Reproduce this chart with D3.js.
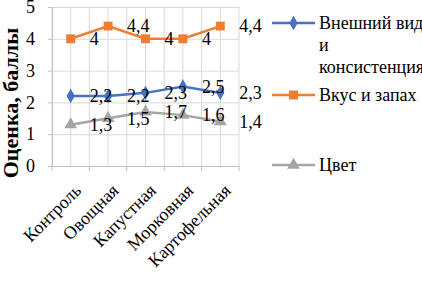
<!DOCTYPE html>
<html>
<head>
<meta charset="utf-8">
<script src="https://cdn.jsdelivr.net/npm/d3@7"></script>
</head>
<body style="margin:0">
<div id="chartContainer"></div>
<script>
// Chart data
const categories = ["Контроль", "Овощная", "Капустная", "Морковная", "Картофельная"];
const appearance = [2.2, 2.2, 2.3, 2.5, 2.3];
const taste = [4, 4.4, 4, 4, 4.4];
const color = [1.3, 1.5, 1.7, 1.6, 1.4];
const yTicks = [0, 1, 2, 3, 4, 5];

const series = [
  {name: ["Внешний вид", "и", "консистенция"], values: appearance, stroke: "#4472c4", marker: d3.symbolDiamond, size: 60, legendY: 23},
  {name: ["Вкус и запах"], values: taste, stroke: "#ed7d31", marker: d3.symbolSquare, size: 80, legendY: 95},
  {name: ["Цвет"], values: color, stroke: "#a5a5a5", marker: d3.symbolTriangle, size: 70, legendY: 165}
];

const FONT = "Liberation Serif";

const width = 422;
const height = 281;
const marginLeft = 52;
const plotRight = 239;
const marginTop = 7;
const plotBottom = 166;

const x = d3.scaleBand(categories, [marginLeft, plotRight]);
const y = d3.scaleLinear([0, 5], [plotBottom, marginTop]);
const cx = d => x(d) + x.bandwidth() / 2;

const svg = d3.select("#chartContainer").append("svg")
  .attr("width", width)
  .attr("height", height)
  .attr("font-family", FONT)
  .style("display", "block");

// Vertical grid: category boundaries and centres
const vLines = categories.flatMap(c => [x(c), cx(c)]).concat([plotRight]);
svg.append("g")
  .selectAll("line")
  .data(vLines)
  .join("line")
  .attr("x1", d => d).attr("x2", d => d)
  .attr("y1", marginTop).attr("y2", plotBottom)
  .attr("stroke", "#d9d9d9");

// Y axis with grid lines
svg.append("g")
  .attr("transform", `translate(${marginLeft},0)`)
  .call(d3.axisLeft(y).tickValues(yTicks).tickFormat(d3.format("d")).tickSize(4).tickPadding(13))
  .attr("font-family", FONT)
  .attr("font-size", 18)
  .call(g => g.select(".domain").attr("stroke", "#bfbfbf"))
  .call(g => g.selectAll(".tick line").attr("stroke", "#bfbfbf"))
  .call(g => g.selectAll(".tick line").clone()
    .attr("x1", 0)
    .attr("x2", plotRight - marginLeft)
    .attr("stroke", "#d9d9d9"))
  .call(g => g.selectAll(".tick text").attr("fill", "#000"));

// X axis
svg.append("g")
  .attr("transform", `translate(0,${plotBottom})`)
  .call(d3.axisBottom(x).tickSize(0))
  .attr("font-family", FONT)
  .attr("font-size", 18)
  .call(g => g.select(".domain").attr("stroke", "#bfbfbf"))
  .call(g => g.selectAll(".tick text")
    .attr("fill", "#000")
    .attr("text-anchor", "end")
    .attr("transform", "translate(5,19) rotate(-45)")
    .attr("dy", "0.35em")
    .attr("dx", 0))
  .call(g => g.selectAll(".bnd")
    .data(categories.map(c => x(c)).concat([plotRight]))
    .join("line")
    .attr("x1", d => d).attr("x2", d => d)
    .attr("y1", 0).attr("y2", 5)
    .attr("stroke", "#bfbfbf"));

// Axis title
svg.append("text")
  .attr("transform", `translate(18,103) rotate(-90)`)
  .attr("text-anchor", "middle")
  .attr("font-size", 22)
  .attr("font-weight", "bold")
  .text("Оценка, баллы");

const line = d3.line()
  .x((d, i) => cx(categories[i]))
  .y(d => y(d));

for (const s of series) {
  svg.append("path")
    .attr("fill", "none")
    .attr("stroke", s.stroke)
    .attr("stroke-width", 2.5)
    .attr("d", line(s.values));

  svg.append("g")
    .selectAll("path")
    .data(s.values)
    .join("path")
    .attr("transform", (d, i) => `translate(${cx(categories[i])},${y(d)})`)
    .attr("d", d3.symbol(s.marker, s.size))
    .attr("fill", s.stroke);

  // data labels
  svg.append("g")
    .selectAll("text")
    .data(s.values)
    .join("text")
    .attr("x", (d, i) => cx(categories[i]) + 19)
    .attr("y", d => y(d))
    .attr("dy", "0.35em")
    .attr("font-size", 18)
    .text(d => String(d).replace(".", ","));

  // legend
  const lg = svg.append("g").attr("transform", `translate(272,${s.legendY})`);
  lg.append("line")
    .attr("x1", 0).attr("x2", 43)
    .attr("stroke", s.stroke)
    .attr("stroke-width", 2.5);
  lg.append("path")
    .attr("transform", "translate(21.5,0)")
    .attr("d", d3.symbol(s.marker, s.size))
    .attr("fill", s.stroke);
  lg.append("text")
    .attr("font-size", 18)
    .selectAll("tspan")
    .data(s.name)
    .join("tspan")
    .attr("x", 47)
    .attr("y", (d, i) => i * 22)
    .attr("dy", "0.35em")
    .text(d => d);
}

// serif everywhere, set inline so nothing overrides it
svg.selectAll("text").style("font-family", "'Liberation Serif', serif");
</script>
</body>
</html>
